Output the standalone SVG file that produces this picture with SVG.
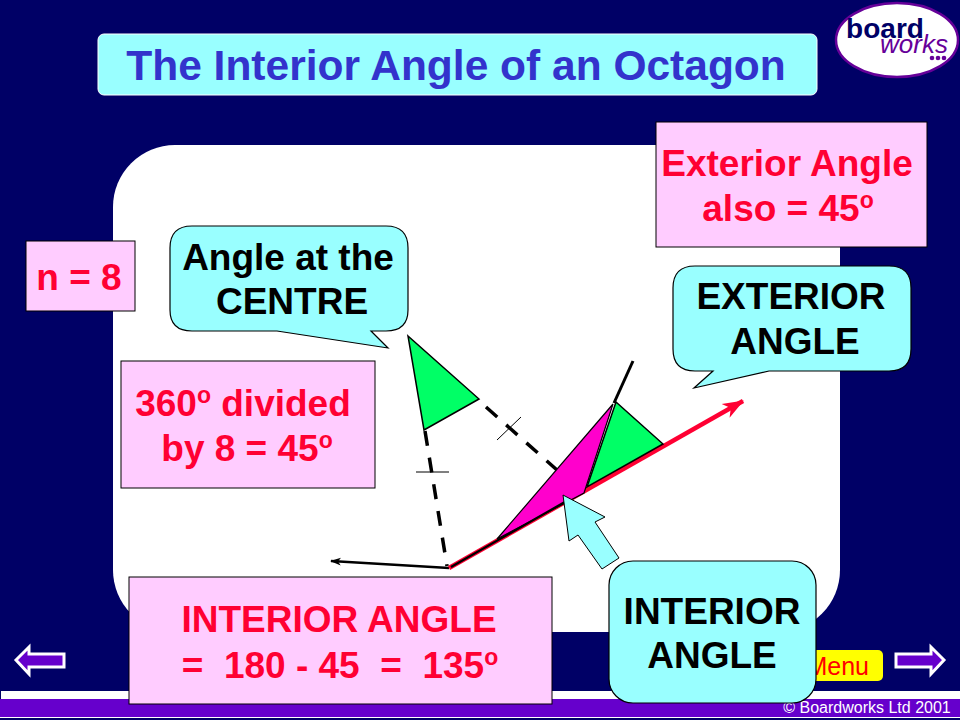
<svg xmlns="http://www.w3.org/2000/svg" width="960" height="720" viewBox="0 0 960 720">
<style>
text{font-family:"Liberation Sans",Arial,sans-serif;font-weight:700;text-anchor:middle;white-space:pre}
.pk{fill:#ffccff;stroke:#000;stroke-width:1}
.cy{fill:#99ffff;stroke:#000;stroke-width:1.2}
.r{fill:#ff0033;font-size:37px}
.b{fill:#000;font-size:37px}
.sup{font-size:23px}
.nav{fill:#6600cc;stroke:#fff;stroke-width:3}
.gr{fill:#00ff66;stroke:#000;stroke-width:1.5}
.dash{fill:none;stroke:#000;stroke-width:3.5;stroke-dasharray:15 12}
.thin{stroke:#000;stroke-width:1;fill:none}
</style>
<defs><marker id="redhead" markerUnits="userSpaceOnUse" markerWidth="22" markerHeight="20" refX="20" refY="10" orient="auto"><path d="M0 2L21 10L0 18L6 10Z" fill="#ff0033"/></marker>
<marker id="blackhead" markerUnits="userSpaceOnUse" markerWidth="12" markerHeight="10" refX="10" refY="5" orient="auto"><path d="M0 1L11 5L0 9L3 5Z" fill="#000"/></marker></defs>
<rect width="960" height="720" fill="#000066"/>
<rect x="1" y="691" width="959" height="8" fill="#fff"/>
<rect x="0" y="699" width="960" height="18" fill="#6600cc"/>
<rect x="0" y="717" width="960" height="1" fill="#fff"/>
<text x="867" y="713" style="font-weight:400;font-size:16px" fill="#fff">© Boardworks Ltd 2001</text>
<rect x="113" y="145" width="727" height="487" rx="62" fill="#fff"/>

<g id="title"><rect x="98" y="34" width="719" height="61" rx="6" fill="#99ffff" stroke="#fff"/><text x="456" y="80" font-size="42.5" fill="#3333cc">The Interior Angle of an Octagon</text></g>

<g id="logo"><ellipse cx="897" cy="40" rx="61" ry="37" fill="#fff" stroke="#660099" stroke-width="2.5"/>
<text x="885" y="38" style="font-size:28px" fill="#000066">board</text>
<text x="914" y="53" style="font-size:26px;font-weight:400;font-style:italic" fill="#660099">works</text>
<circle cx="932" cy="58" r="2.3" fill="#660099"/><circle cx="938" cy="58" r="2.3" fill="#660099"/><circle cx="944" cy="58" r="2.3" fill="#660099"/></g>

<g id="n8"><rect class="pk" x="26" y="241" width="109" height="70"/><text class="r" x="79" y="290">n = 8</text></g>

<g id="exterior-note"><rect class="pk" x="656" y="122" width="271" height="125"/><text class="r" x="787" y="176">Exterior Angle</text><text class="r" x="788" y="221">also = 45<tspan class="sup" dy="-13">o</tspan></text></g>

<g id="divided"><rect class="pk" x="121" y="361" width="254" height="127"/><text class="r" x="243" y="416">360<tspan class="sup" dy="-13">o</tspan><tspan dy="13"> divided</tspan></text><text class="r" x="247" y="461">by 8 = 45<tspan class="sup" dy="-13">o</tspan></text></g>

<g id="connectors">
<path d="M449 568L331 561" fill="none" stroke="#000" stroke-width="2.5" marker-end="url(#blackhead)"/>
<path d="M449 568L743 401" fill="none" stroke="#ff0033" stroke-width="4.5" marker-end="url(#redhead)"/>
<path d="M614 403L633 361" fill="none" stroke="#000" stroke-width="3"/>
<path d="M425 431L447 566" class="dash"/>
<path d="M486 407L557 470" class="dash"/>
<path d="M416 472H449M497 440L521 417" class="thin"/>
</g>

<g id="exterior-wedge"><path class="gr" d="M616 402L663 444L587 487Z"/></g>
<g id="interior-wedge"><path d="M497 539L613 404L584 493Z" fill="#ff00cc" stroke="#000" stroke-width="1.2"/><path d="M451 567L570 499" stroke="#000" stroke-width="2.2"/></g>
<g id="centre-wedge"><path class="gr" d="M408 336L479 399L424 430Z"/></g>
<g id="interior-pointer"><path d="M563 495L605 517L595 522L619 558L602 569L578 535L569 541Z" fill="#99ffff" stroke="#000" stroke-width="1"/></g>

<g id="menu"><rect x="800" y="650" width="83" height="31" rx="5" fill="#ffff00"/><text x="869" y="675" style="font-size:25px;font-weight:400;text-anchor:end" fill="#ff0000">Menu</text></g>
<g id="nav-prev"><path class="nav" d="M16 660L29 647V654H64V667H29V674Z"/></g>
<g id="nav-next"><path class="nav" d="M944 660L931 647V654H896V667H931V674Z"/></g>

<g id="centre-callout"><path class="cy" d="M192 226H386Q408 226 408 248V310Q408 331 386 331H371L388 348L277 331H192Q170 331 170 310V248Q170 226 192 226Z"/><text class="b" x="288" y="270">Angle at the</text><text class="b" x="292" y="314">CENTRE</text></g>
<g id="exterior-callout"><path class="cy" d="M695 266H889Q911 266 911 288V349Q911 371 889 371H769L694 388L713 371H695Q673 371 673 349V288Q673 266 695 266Z"/><text class="b" x="791" y="309">EXTERIOR</text><text class="b" x="795" y="354">ANGLE</text></g>
<g id="interior-callout"><rect class="cy" x="609" y="561" width="207" height="142" rx="24"/><text class="b" x="712" y="624">INTERIOR</text><text class="b" x="712" y="668">ANGLE</text></g>
<g id="interior-note"><rect class="pk" x="129" y="577" width="423" height="127"/><text class="r" x="339" y="632">INTERIOR ANGLE</text><text class="r" x="340" y="678">=  180 - 45  =  135<tspan class="sup" dy="-13">o</tspan></text></g>
</svg>
